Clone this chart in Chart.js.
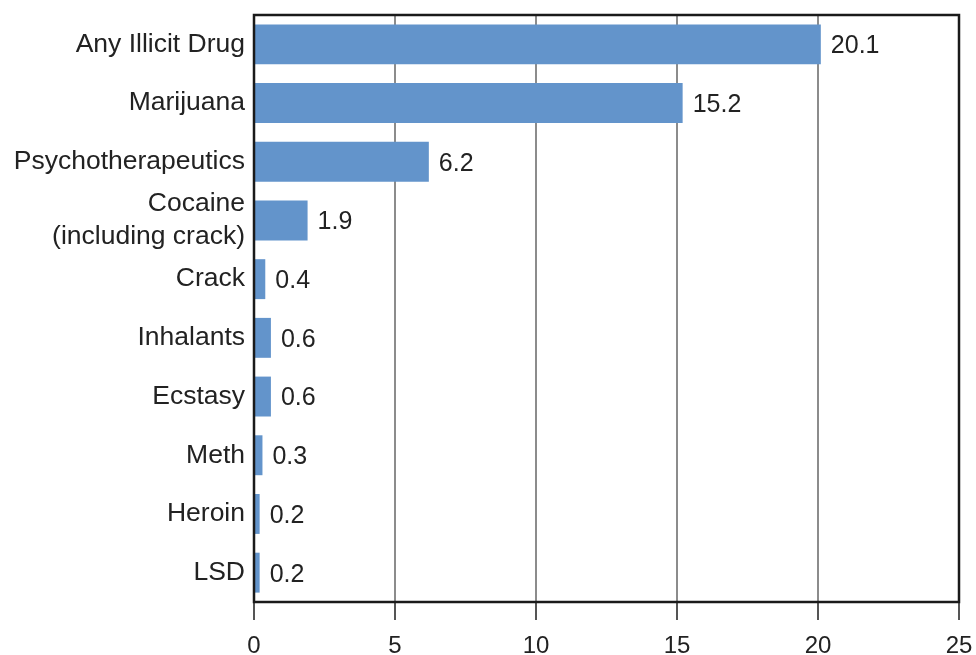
<!DOCTYPE html>
<html>
<head>
<meta charset="utf-8">
<script src="https://cdn.jsdelivr.net/npm/chart.js@4"></script>
<style>
  html, body { margin: 0; padding: 0; background: #fff; }
  #wrap { width: 976px; height: 655px; overflow: hidden; }
</style>
</head>
<body>
<div id="wrap"><canvas id="mychart1"></canvas></div>
<script>
const drugs = ['Any Illicit Drug', 'Marijuana', 'Psychotherapeutics', ['Cocaine', '(including crack)'],
    'Crack', 'Inhalants', 'Ecstasy', 'Meth', 'Heroin', 'LSD'];
const percent = [20.1, 15.2, 6.2, 1.9, 0.4, 0.6, 0.6, 0.3, 0.2, 0.2];
const xTicks = [0, 5, 10, 15, 20, 25];

const FONT = '"Liberation Sans", Arial, Helvetica, sans-serif';

// value text to the right of each bar
const valueLabels = {
    id: 'valueLabels',
    afterDatasetsDraw(chart) {
        const ctx = chart.ctx;
        const meta = chart.getDatasetMeta(0);
        ctx.save();
        ctx.font = '25px ' + FONT;
        ctx.fillStyle = '#222';
        ctx.textAlign = 'left';
        ctx.textBaseline = 'middle';
        meta.data.forEach((bar, i) => {
            ctx.fillText(percent[i].toFixed(1), bar.x + 10, bar.y + 2);
        });
        ctx.restore();
    }
};

// black frame round the plot area
const frame = {
    id: 'frame',
    afterDatasetsDraw(chart) {
        const a = chart.chartArea;
        const ctx = chart.ctx;
        ctx.save();
        ctx.strokeStyle = '#1a1a1a';
        ctx.lineWidth = 2.5;
        ctx.strokeRect(a.left, a.top, a.right - a.left, a.bottom - a.top);
        ctx.restore();
    }
};

new Chart(mychart1, {
    type: 'bar',
    data: {
        labels: drugs,
        datasets: [
            {
                data: percent,
                backgroundColor: '#6394cb',
                borderWidth: 0,
                barPercentage: 0.68,
                categoryPercentage: 1,
            },
        ],
    },
    options: {
        indexAxis: 'y',
        responsive: true,
        maintainAspectRatio: false,
        animation: false,
        layout: {
            padding: { top: 15, right: 17, left: 0, bottom: 0 }
        },
        plugins: {
            legend: { display: false },
            tooltip: { enabled: false },
        },
        scales: {
            x: {
                min: 0,
                max: 25,
                afterBuildTicks: s => { s.ticks = xTicks.map(v => ({ value: v })); },
                afterFit: s => {
                    s.height = 53;
                    s.paddingLeft = 0;
                    s.paddingRight = 0;
                },
                grid: {
                    color: '#8c8c8c',
                    lineWidth: 2,
                    drawTicks: true,
                    tickLength: 18,
                    tickColor: '#555',
                    tickWidth: 2,
                },
                border: { display: false },
                ticks: {
                    padding: 12,
                    color: '#222',
                    font: { family: FONT, size: 24 },
                    maxRotation: 0,
                },
            },
            y: {
                afterFit: s => {
                    s.width = 254;
                    s.paddingTop = 0;
                    s.paddingBottom = 0;
                },
                grid: { display: false, drawTicks: false },
                border: { display: false },
                ticks: {
                    autoSkip: false,
                    padding: 9,
                    color: '#222',
                    font: { family: FONT, size: 26.5, lineHeight: 1.23 },
                },
            },
        },
    },
    plugins: [valueLabels, frame],
});
</script>
</body>
</html>
